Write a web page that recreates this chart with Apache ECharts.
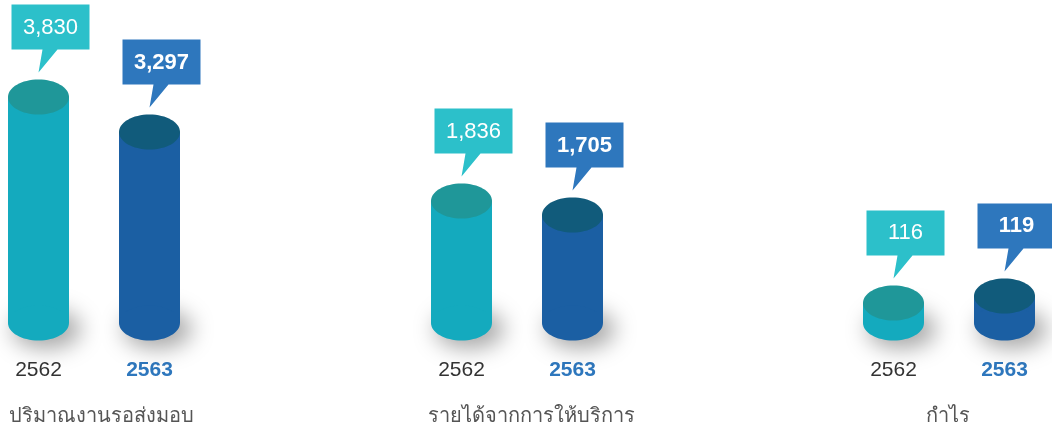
<!DOCTYPE html>
<html>
<head>
<meta charset="utf-8">
<script src="https://cdn.jsdelivr.net/npm/echarts@6/dist/echarts.min.js"></script>
<style>
  html, body { margin: 0; padding: 0; background: #fff; }
  #chart { width: 1052px; height: 432px; }
</style>
</head>
<body>
<div id="chart"></div>
<script>
// years and groups
const years = ['2562', '2563']
const groupTitles = ['ปริมาณงานรอส่งมอบ', 'รายได้จากการให้บริการ', 'กำไร']
const values2562 = [3830, 1836, 116]
const values2563 = [3297, 1705, 119]
// hidden value axis range per group (the infographic uses its own scale per group)
const axisMin = [388, 694, 107.4]
const axisMax = [5307, 3716, 245.8]

const FONT = '"Helvetica Neue", Helvetica, Arial, "Noto Sans", sans-serif'
const gridLeft = [-17, 406, 838]
const titleX = [101, 531, 948]

const bodyColors = ['#14aabe', '#1b5fa3']
const topColors = ['#1f9799', '#115b7b']
const bubbleColors = ['#2cc0ca', '#2e77bd']

function renderCylinder(params, api) {
  const i = api.value(0)
  const v = api.value(1)
  const top = api.coord([i, v])
  const base = api.coord([i, axisMin[params.seriesIndex]])
  const cx = top[0]
  const rx = 30.5
  const ry = 17.5
  const ety = top[1] - ry
  const label = Number(v).toLocaleString('en-US')
  return {
    type: 'group',
    children: [
      // soft shadow, drawn off screen so only the blur shows
      {
        type: 'ellipse',
        shape: { cx: cx + 8 - 3000, cy: base[1] + 6, rx: rx + 4, ry: ry + 2 },
        style: { fill: '#000', shadowColor: 'rgba(0,0,0,0.35)', shadowBlur: 22, shadowOffsetX: 3000 }
      },
      {
        type: 'rect',
        shape: { x: cx - rx, y: top[1], width: rx * 2, height: base[1] - top[1] },
        style: { fill: bodyColors[i] }
      },
      {
        type: 'ellipse',
        shape: { cx: cx, cy: base[1], rx: rx, ry: ry },
        style: { fill: bodyColors[i] }
      },
      {
        type: 'ellipse',
        shape: { cx: cx, cy: top[1], rx: rx, ry: ry },
        style: { fill: topColors[i] }
      },
      {
        type: 'polygon',
        shape: {
          points: [
            [cx - 27, ety - 75], [cx + 51, ety - 75], [cx + 51, ety - 30],
            [cx + 19, ety - 30], [cx, ety - 7], [cx + 4, ety - 30], [cx - 27, ety - 30]
          ]
        },
        style: { fill: bubbleColors[i] }
      },
      {
        type: 'text',
        style: {
          x: cx + 12, y: ety - 52,
          text: label,
          fill: '#fff',
          font: (i === 1 ? 'bold ' : '') + '22px ' + FONT,
          align: 'center',
          verticalAlign: 'middle'
        }
      }
    ]
  }
}

const chart = echarts.init(document.getElementById('chart'))

const grids = gridLeft.map(l => ({ left: l, width: 222, top: 0, bottom: 109, outerBoundsMode: 'none' }))
const xAxes = gridLeft.map((l, g) => ({
  type: 'category',
  gridIndex: g,
  data: years,
  axisLine: { show: false },
  axisTick: { show: false },
  axisLabel: {
    margin: 37,
    formatter: (val, idx) => idx === 0 ? '{a|' + val + '}' : '{b|' + val + '}',
    rich: {
      a: { fontSize: 21, color: '#333', fontFamily: FONT },
      b: { fontSize: 21, color: '#2e77bd', fontWeight: 'bold', fontFamily: FONT }
    }
  }
}))
const yAxes = gridLeft.map((l, g) => ({
  type: 'value', gridIndex: g, show: false, min: axisMin[g], max: axisMax[g]
}))
const series = gridLeft.map((l, g) => ({
  type: 'custom',
  xAxisIndex: g,
  yAxisIndex: g,
  renderItem: renderCylinder,
  data: [[0, values2562[g]], [1, values2563[g]]]
}))

chart.setOption({
  animation: false,
  grid: grids,
  xAxis: xAxes,
  yAxis: yAxes,
  series: series,
  graphic: groupTitles.map((t, g) => ({
    type: 'text',
    x: titleX[g],
    y: 416,
    style: {
      text: t,
      fill: '#555',
      font: '20px ' + FONT,
      align: 'center',
      verticalAlign: 'middle'
    }
  }))
})
</script>
</body>
</html>
